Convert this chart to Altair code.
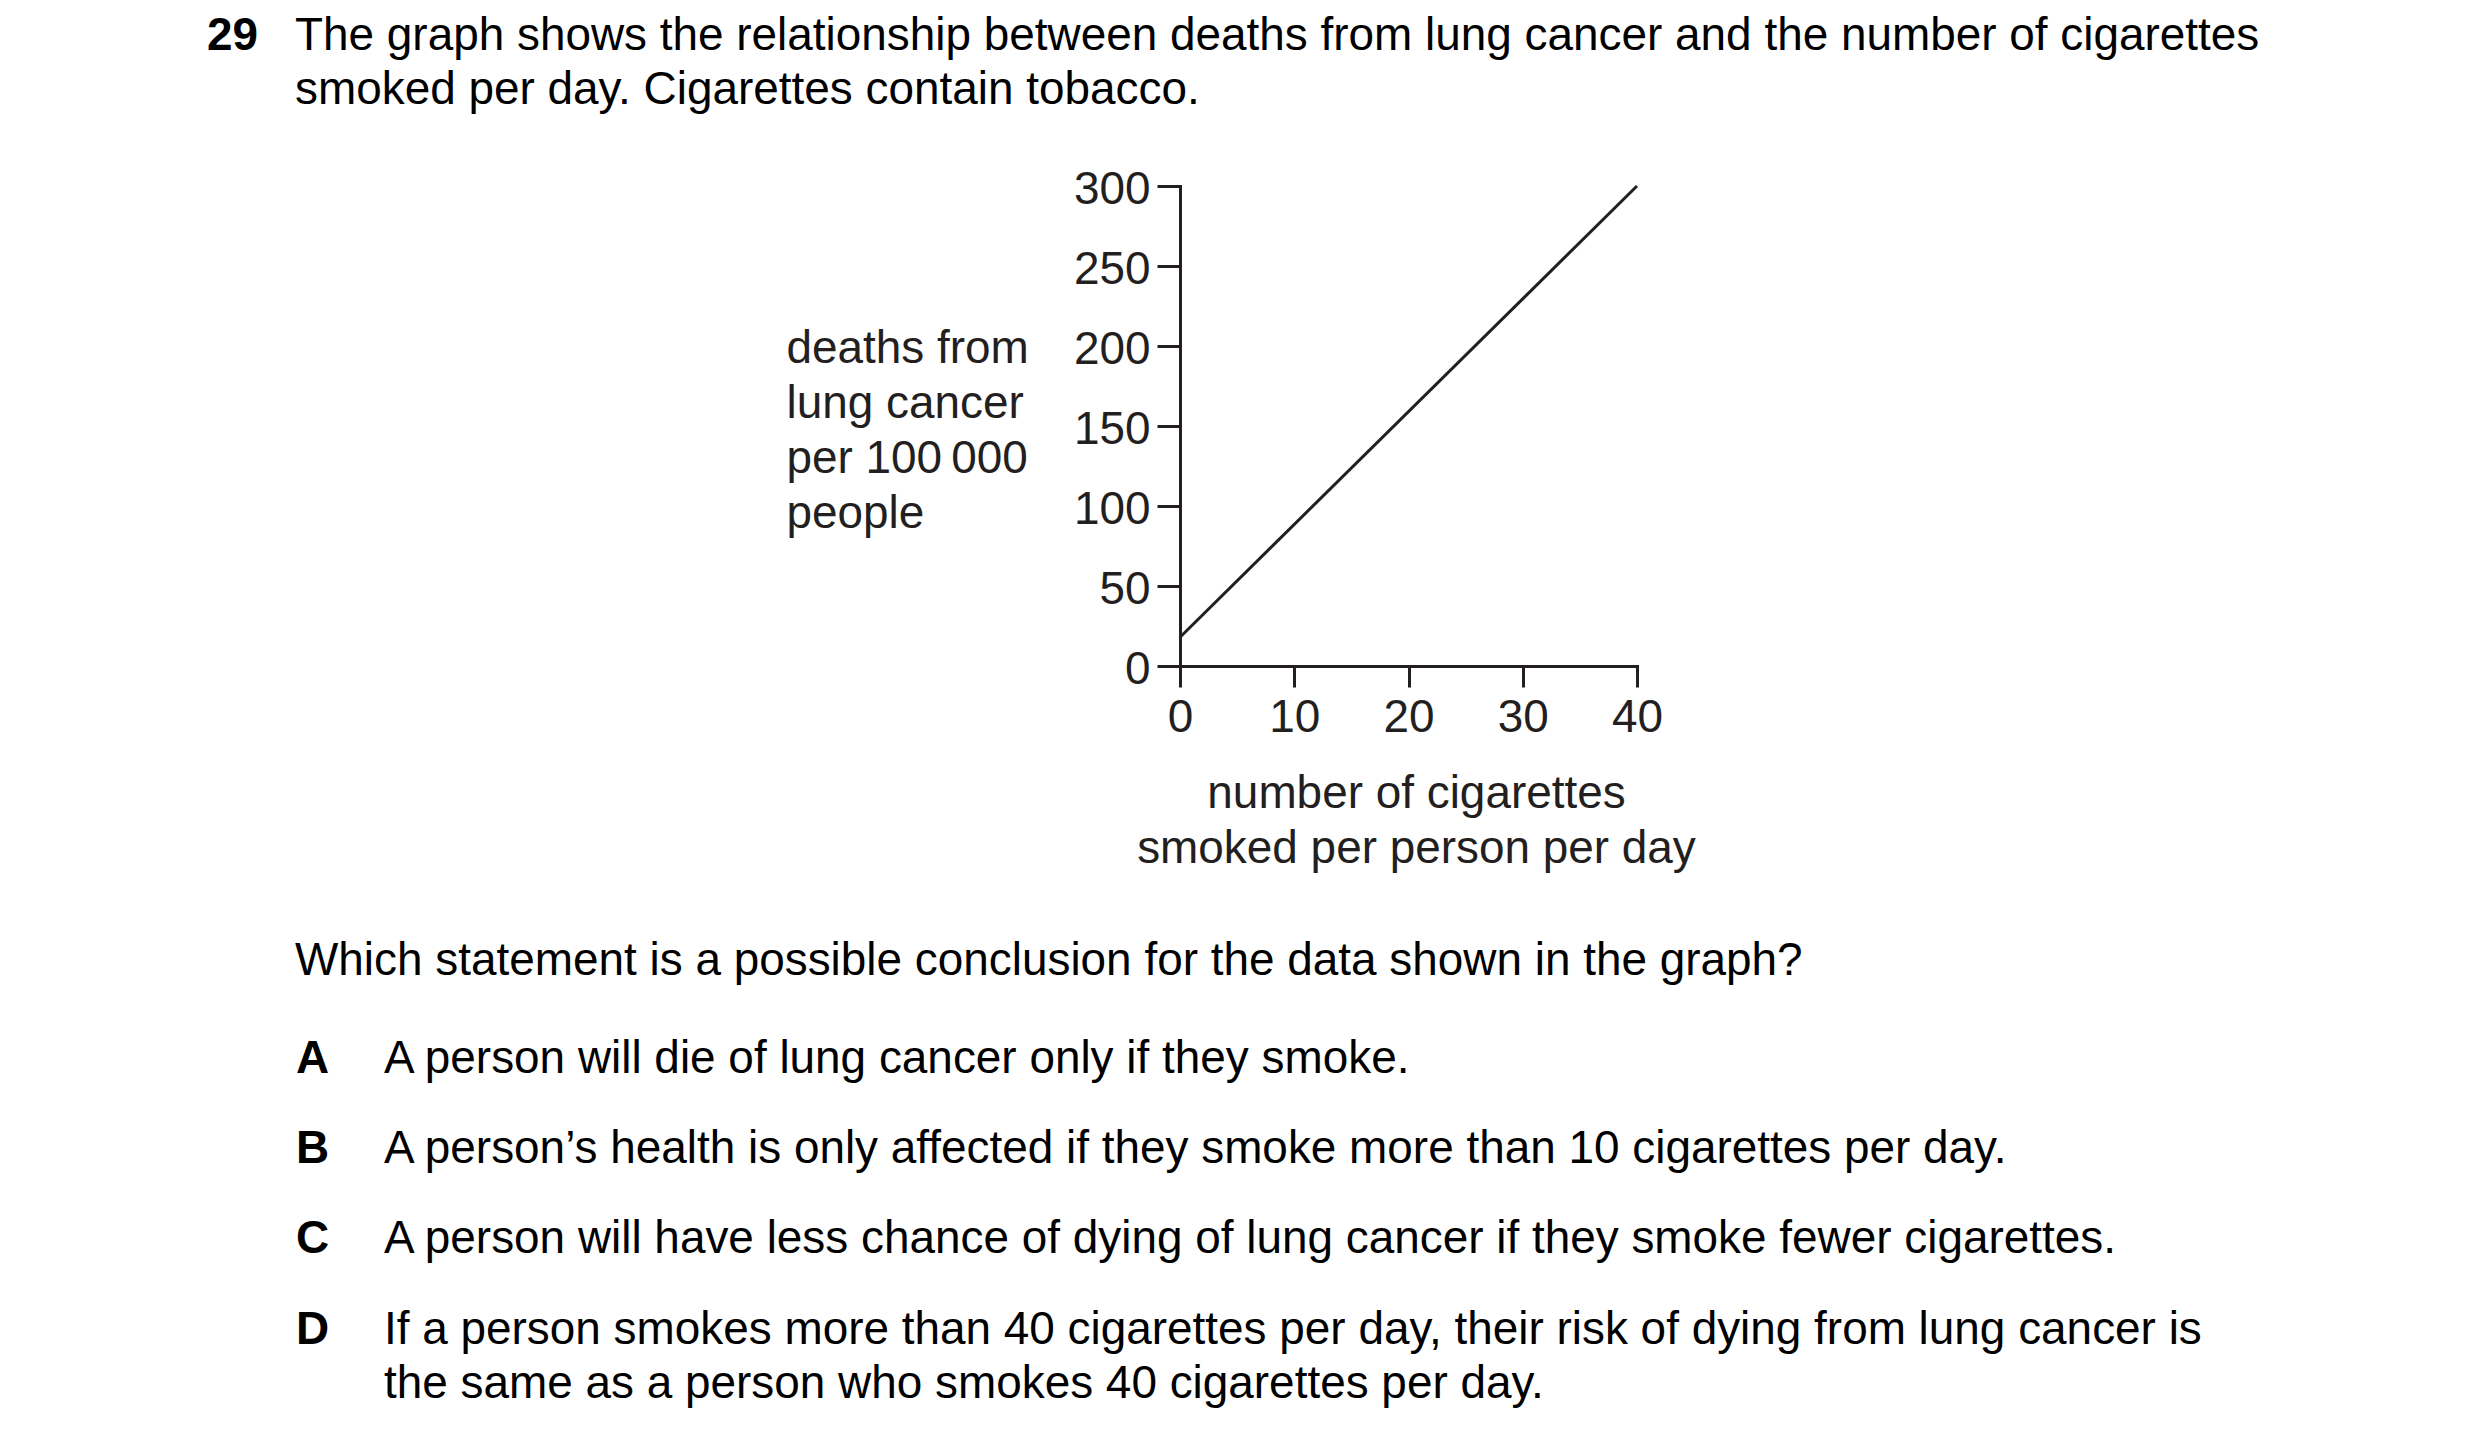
import altair as alt
import pandas as pd

# ---- data ----
cigarettes = [0, 40]
deaths = [18, 300]
x_ticks = [0, 10, 20, 30, 40]
y_ticks = [0, 50, 100, 150, 200, 250, 300]
x_title = ["number of cigarettes", "smoked per person per day"]
y_title = ["deaths from", "lung cancer", "per 100\u2009000", "people"]
q_number = "29"
intro = [
    "The graph shows the relationship between deaths from lung cancer and the number of cigarettes",
    "smoked per day. Cigarettes contain tobacco.",
]
question = "Which statement is a possible conclusion for the data shown in the graph?"
letters = ["A", "B", "C", "D"]
options = [
    ["A person will die of lung cancer only if they smoke."],
    ["A person\u2019s health is only affected if they smoke more than 10 cigarettes per day."],
    ["A person will have less chance of dying of lung cancer if they smoke fewer cigarettes."],
    ["If a person smokes more than 40 cigarettes per day, their risk of dying from lung cancer is",
     "the same as a person who smokes 40 cigarettes per day."],
]

# ---- styling / layout ----
FONT = "Liberation Sans"
FS = 45.9
INK = "#231f20"
W, H = 457, 480
OX, OY = 1180, 186          # page position of the plot origin
TOTAL_W, TOTAL_H = 2464, 1420
PAD = {"left": OX - 8, "top": OY - 8,
       "right": TOTAL_W - (OX - 8) - W, "bottom": TOTAL_H - (OY - 8) - H}

df = pd.DataFrame({"cig": cigarettes, "deaths": deaths})

line = alt.Chart(df).mark_line(color=INK, strokeWidth=3, clip=False).encode(
    x=alt.X("cig:Q",
            scale=alt.Scale(domain=[0, 40], nice=False, zero=True),
            axis=alt.Axis(values=x_ticks, format="d", grid=False,
                          domainColor=INK, domainWidth=3, domainCap="square",
                          tickColor=INK, tickWidth=3, tickSize=21,
                          labelFont=FONT, labelFontSize=FS, labelColor=INK,
                          labelPadding=8, labelBaseline="top", labelAlign="center",
                          labelFlush=False, labelOverlap=False,
                          title=x_title, titleFont=FONT, titleFontSize=FS,
                          titleFontWeight="normal", titleColor=INK,
                          titleX=236, titleY=141, titleAlign="center",
                          titleBaseline="alphabetic", titleLineHeight=55)),
    y=alt.Y("deaths:Q",
            scale=alt.Scale(domain=[0, 300], nice=False, zero=True),
            axis=alt.Axis(values=y_ticks, format="d", grid=False,
                          domainColor=INK, domainWidth=3, domainCap="square",
                          tickColor=INK, tickWidth=3, tickSize=23,
                          labelFont=FONT, labelFontSize=FS, labelColor=INK,
                          labelPadding=7, labelBaseline="alphabetic", labelOffset=17,
                          labelAlign="right", labelFlush=False, labelOverlap=False,
                          title=y_title, titleFont=FONT, titleFontSize=FS,
                          titleFontWeight="normal", titleColor=INK, titleAngle=0,
                          titleX=-394, titleY=176, titleAlign="left",
                          titleBaseline="alphabetic", titleLineHeight=55)),
)

one = pd.DataFrame({"k": [0]})


def text_layer(s, x, y, bold=False):
    return alt.Chart(one).mark_text(
        text=s, align="left", baseline="alphabetic", font=FONT, fontSize=FS,
        fontWeight="bold" if bold else "normal", color="#000000",
    ).encode(x=alt.value(x - OX), y=alt.value(y - OY))


layers = [line]
layers.append(text_layer(q_number, 207, 50, bold=True))
layers.append(text_layer(intro[0], 295, 50))
layers.append(text_layer(intro[1], 295, 104))
layers.append(text_layer(question, 295, 975))
opt_y = [1073, 1163, 1253, 1344]
for letter, lines_, yy in zip(letters, options, opt_y):
    layers.append(text_layer(letter, 296, yy, bold=True))
    for i, ln in enumerate(lines_):
        layers.append(text_layer(ln, 384, yy + 54 * i))

chart = alt.layer(*layers).properties(
    width=W, height=H,
    autosize=alt.AutoSizeParams(type="none"),
    padding=PAD,
    background="white",
).configure_view(stroke=None)

chart.save("out.html", embed_options={"renderer": "svg", "actions": False})
